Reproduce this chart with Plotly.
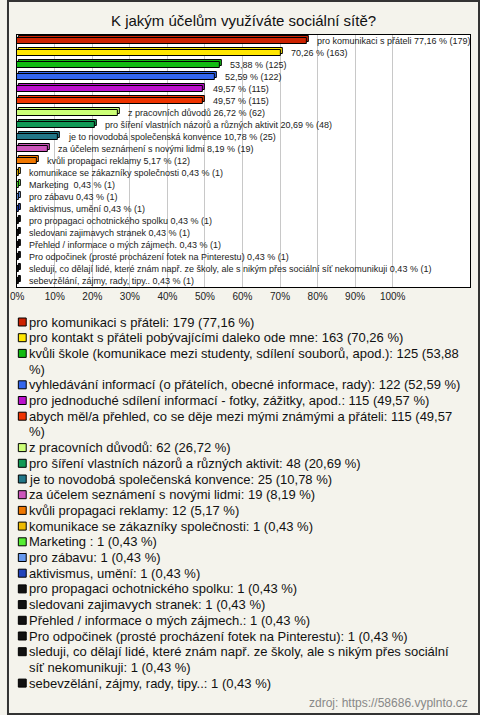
import plotly.graph_objects as go

# ---------------- data ----------------
categories = [
    "pro komunikaci s přáteli",
    "pro kontakt s přáteli pobývajícími daleko ode mne",
    "kvůli škole (komunikace mezi studenty, sdílení souborů, apod.)",
    "vyhledávání informací (o přátelích, obecné informace, rady)",
    "pro jednoduché sdílení informací - fotky, zážitky, apod.",
    "abych měl/a přehled, co se děje mezi mými známými a přáteli",
    "z pracovních důvodů",
    "pro šíření vlastních názorů a různých aktivit",
    "je to novodobá společenská konvence",
    "za účelem seznámení s novými lidmi",
    "kvůli propagaci reklamy",
    "komunikace se zákazníky společnosti",
    "Marketing ",
    "pro zábavu",
    "aktivismus, umění",
    "pro propagaci ochotnického spolku",
    "sledovani zajimavych stranek",
    "Přehled / informace o mých zájmech.",
    "Pro odpočinek (prosté procházení fotek na Pinterestu)",
    "sleduji, co dělají lidé, které znám např. ze školy, ale s nikým přes sociální síť nekomunikuji",
    "sebevzělání, zájmy, rady, tipy..",
]
counts = [179, 163, 125, 122, 115, 115, 62, 48, 25, 19, 12, 1, 1, 1, 1, 1, 1, 1, 1, 1, 1]
percents = [77.16, 70.26, 53.88, 52.59, 49.57, 49.57, 26.72, 20.69, 10.78, 8.19, 5.17,
            0.43, 0.43, 0.43, 0.43, 0.43, 0.43, 0.43, 0.43, 0.43, 0.43]
show_name_on_bar = [True, False, False, False, False, False] + [True] * 15
colors = ["#cc2200", "#ffe600", "#11bb11", "#3366ee", "#bb11cc", "#ee3300", "#ccff77",
          "#119955", "#227788", "#cc55bb", "#ee7700", "#eebb00", "#55ee33", "#6699ee",
          "#2244bb", "#111111", "#111111", "#111111", "#111111", "#111111", "#111111"]
tick_vals = [0, 10, 20, 30, 40, 50, 60, 70, 80, 90, 100]
tick_text = [f"{v}%" for v in tick_vals]
title = "K jakým účelům využíváte sociální sítě?"
source = "zdroj: https://58686.vyplnto.cz"
legend_wrap = {2: "%)", 5: "%)", 19: "síť nekomunikuji"}

# ---------------- layout constants ----------------
W, H = 480, 715
PL, PR, PT, PB = 10, 470, 35, 287
BG = "#f4f3ec"


def fmt(p):
    return f"{p:.2f}".replace(".", ",")


def px(x):
    return x / W


def py(y):
    return 1 - y / H


idx = list(range(len(categories)))
n = len(categories)

fig = go.Figure()
# back (3D top face)
fig.add_trace(go.Bar(
    x=percents, y=idx, orientation="h", base=0.5,
    width=0.5, offset=-0.25 - 0.17,
    marker=dict(color=colors, line=dict(color="#000000", width=1)),
    hoverinfo="skip", showlegend=False,
))
# front face
fig.add_trace(go.Bar(
    x=percents, y=idx, orientation="h",
    width=0.5, offset=-0.25,
    marker=dict(color=colors, line=dict(color="#000000", width=1)),
    showlegend=False,
))

annotations = []
for i in idx:
    t = f"{fmt(percents[i])} % ({counts[i]})"
    if show_name_on_bar[i]:
        t = f"{categories[i]} {t}"
    annotations.append(dict(
        x=percents[i], y=i, xref="x", yref="y", text=t, showarrow=False,
        xanchor="left", yanchor="middle", xshift=8,
        font=dict(family="Liberation Sans, Arial", size=9, color="#222222"),
    ))

# title
annotations.append(dict(
    x=0.5, y=py(20), xref="paper", yref="paper", text=title, showarrow=False,
    xanchor="center", yanchor="middle",
    font=dict(family="Liberation Sans, Arial", size=15, color="#111111"),
))

# legend (manual)
shapes = []
line_pitch = 15.7
y0 = 322
k = 0
for i in idx:
    txt = f"{categories[i]}: {counts[i]} ({fmt(percents[i])} %)"
    lines = [txt]
    if i in legend_wrap:
        w = legend_wrap[i]
        pos = txt.rfind(" " + w)
        lines = [txt[:pos], txt[pos + 1:]]
    yc = y0 + line_pitch * k
    shapes.append(dict(
        type="rect", xref="paper", yref="paper",
        x0=px(11.5), x1=px(19.5), y0=py(yc - 4), y1=py(yc + 4),
        fillcolor=colors[i], line=dict(color="#000000", width=1),
    ))
    for ln in lines:
        annotations.append(dict(
            x=px(20.5), y=py(y0 + line_pitch * k), xref="paper", yref="paper",
            text=ln, showarrow=False, xanchor="left", yanchor="middle",
            font=dict(family="Liberation Sans, Arial", size=13, color="#111111"),
        ))
        k += 1

annotations.append(dict(
    x=px(470), y=py(703), xref="paper", yref="paper", text=source, showarrow=False,
    xanchor="right", yanchor="middle",
    font=dict(family="Liberation Sans, Arial", size=12, color="#888888"),
))

# outer frame
shapes.append(dict(type="rect", xref="paper", yref="paper",
                   x0=px(1), x1=px(479), y0=py(714), y1=py(1),
                   line=dict(color="#333333", width=2), fillcolor="rgba(0,0,0,0)"))

fig.update_layout(
    width=W, height=H,
    margin=dict(l=0, r=0, t=0, b=0),
    paper_bgcolor=BG, plot_bgcolor="#ffffff",
    barmode="overlay", bargap=0,
    annotations=annotations, shapes=shapes,
    showlegend=False,
    xaxis=dict(
        domain=[px(PL), px(PR)],
        range=[-0.1, (PR - PL) / 3.81 - 0.1],
        tickvals=tick_vals, ticktext=tick_text,
        showgrid=True, gridcolor="#c8c8c8", gridwidth=1,
        zeroline=False, showline=True, linecolor="#000000", linewidth=1, mirror=True,
        ticks="", tickfont=dict(family="Liberation Sans, Arial", size=10, color="#222222"),
        fixedrange=True,
    ),
    yaxis=dict(
        domain=[py(PB), py(PT)],
        range=[n - 0.5, -0.5],
        showticklabels=False, showgrid=False, zeroline=False,
        showline=True, linecolor="#000000", linewidth=1, mirror=True,
        ticks="", fixedrange=True,
    ),
)

fig.write_html(
    "out.html",
    config={"displayModeBar": False},
    post_script="document.body.style.margin='0';document.body.style.overflow='hidden';",
)
